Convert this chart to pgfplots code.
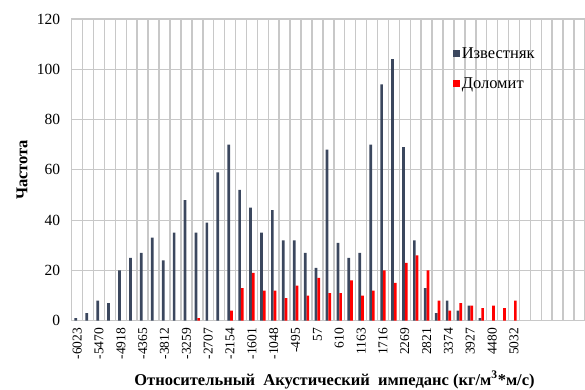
\documentclass[border=0pt]{standalone}
\usepackage{pgfplots}
\pgfplotsset{compat=1.18}
\usepackage{fontspec}
\setmainfont{Liberation Serif}
\definecolor{darkbar}{RGB}{59,71,94}
\definecolor{redbar}{RGB}{255,0,0}
\definecolor{gridc}{RGB}{200,200,200}
\newcommand{\xtickfont}{\fontsize{13.5}{15}\selectfont}
\newcommand{\ytickfont}{\fontsize{15.5}{18}\selectfont}
\newcommand{\legfont}{\fontsize{16.5}{19}\selectfont}
\newcommand{\labfont}{\fontsize{16.5}{19}\selectfont\bfseries}
\begin{document}
\begin{tikzpicture}
\path[use as bounding box] (-71.7pt,-68.3pt) rectangle (513.3pt,320.7pt);
\begin{axis}[
  at={(0,0)}, anchor=south west,
  scale only axis, width=513.3pt, height=301.7pt,
  xmin=-0.5, xmax=46.5, ymin=0, ymax=120,
  ybar=0pt, bar width=2.7pt,
  xtick={0,2,...,40},
  xticklabels={-6023,-5470,-4918,-4365,-3812,-3259,-2707,-2154,-1601,-1048,-495,57,610,1163,1716,2269,2821,3374,3927,4480,5032},
  xticklabel style={font=\xtickfont, rotate=90, anchor=east, inner sep=2pt, xshift=-5pt},
  ytick={0,20,...,120},
  ymajorgrids=true,
  grid style={gridc, line width=1.2pt},
  major tick length=0pt, minor tick length=0pt,
  axis line style={gridc, line width=1.2pt},
  /pgf/number format/assume math mode=true,
  yticklabel style={font=\ytickfont, xshift=-8pt},
  ylabel={Частота},
  ylabel style={font=\labfont, at={(axis description cs:0,0.5)}, anchor=center, yshift=49.7pt},
  xlabel={Относительный\ \ Акустический\ \ импеданс (кг/м\textsuperscript{3}*м/с)},
  xlabel style={font=\labfont, at={(axis description cs:0.512,0)}, anchor=center, yshift=-59.3pt},
  legend style={draw=none, fill=none, at={(0.743,0.912)}, anchor=north west, font=\legfont, row sep=15pt, inner sep=0pt, nodes={inner sep=1.5pt}},
  legend cell align=left,
]
\foreach \i in {-0.5,0.5,...,46.5} {
  \edef\temp{\noexpand\draw[color=gridc, line width=1.5pt] (axis cs:\i,0) -- (axis cs:\i,120);}
  \temp
}
\addplot[fill=darkbar, draw=none, legend image code/.code={\fill[darkbar] (0pt,-3.5pt) rectangle (7pt,3.5pt);}] coordinates {
(0,1) (1,3) (2,8) (3,7) (4,20) (5,25) (6,27) (7,33) (8,24) (9,35)
(10,48) (11,35) (12,39) (13,59) (14,70) (15,52) (16,45) (17,35) (18,44) (19,32)
(20,32) (21,27) (22,21) (23,68) (24,31) (25,25) (26,27) (27,70) (28,94) (29,104)
(30,69) (31,32) (32,13) (33,3) (34,8) (35,4) (36,6) (37,1)
};
\addlegendentry{Известняк}
\addplot[fill=redbar, draw=none, legend image code/.code={\fill[redbar] (0pt,-3.5pt) rectangle (7pt,3.5pt);}] coordinates {
(11,1) (14,4) (15,13) (16,19) (17,12) (18,12) (19,9)
(20,14) (21,10) (22,17) (23,11) (24,11) (25,16) (26,10) (27,12) (28,20) (29,15)
(30,23) (31,26) (32,20) (33,8) (34,4) (35,7) (36,6) (37,5) (38,6) (39,5) (40,8)
};
\addlegendentry{Доломит}
\end{axis}
\end{tikzpicture}
\end{document}
